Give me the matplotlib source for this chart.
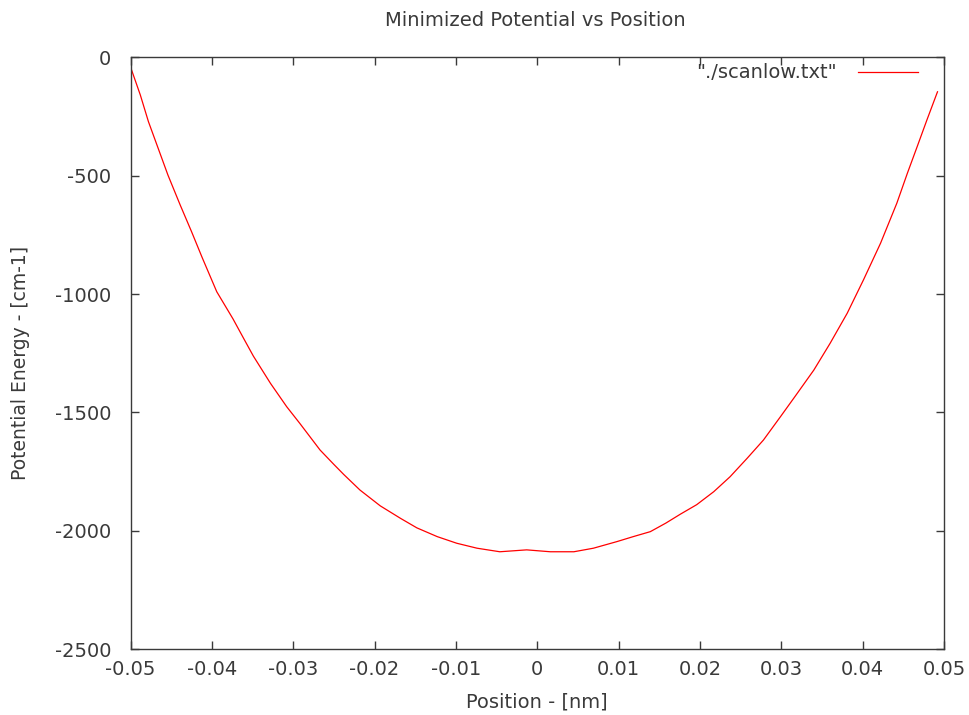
import matplotlib.pyplot as plt

# === dane ===
position = [-0.04994, -0.0488, -0.0478, -0.0466, -0.0454, -0.0439, -0.0425,
            -0.0412, -0.0394, -0.0374, -0.0361, -0.0349, -0.0328, -0.0308,
            -0.0292, -0.0267, -0.0250, -0.0238, -0.0218, -0.0193, -0.0168,
            -0.0148, -0.0123, -0.0099, -0.0074, -0.0046, -0.0013, 0.0016,
            0.0045, 0.0069, 0.0098, 0.0118, 0.0139, 0.0158, 0.0176, 0.0196,
            0.0217, 0.0237, 0.0258, 0.0278, 0.0299, 0.0317, 0.0340, 0.0360,
            0.0381, 0.0401, 0.0422, 0.0442, 0.0455, 0.0467, 0.0479, 0.0492]
energy = [-46, -158, -271, -384, -497, -623, -736,
          -845, -990, -1105, -1187, -1262, -1377, -1476,
          -1546, -1659, -1720, -1762, -1828, -1895, -1948,
          -1988, -2025, -2053, -2074, -2089, -2081, -2089,
          -2089, -2074, -2046, -2025, -2004, -1968, -1930, -1890,
          -1835, -1772, -1694, -1617, -1518, -1432, -1321, -1208,
          -1081, -940, -785, -616, -489, -377, -264, -145]

xticks = [-0.05, -0.04, -0.03, -0.02, -0.01, 0, 0.01, 0.02, 0.03, 0.04, 0.05]
xtick_labels = ["-0.05", "-0.04", "-0.03", "-0.02", "-0.01", "0",
                "0.01", "0.02", "0.03", "0.04", "0.05"]
yticks = [-2500, -2000, -1500, -1000, -500, 0]
ytick_labels = ["-2500", "-2000", "-1500", "-1000", "-500", "0"]

text_color = "#3a3a3a"

fig = plt.figure(figsize=(9.69, 7.15), dpi=100)
ax = fig.add_axes([0.1347, 0.0923, 0.8395, 0.8273])

ax.plot(position, energy, color="red", linewidth=0.9, label='"./scanlow.txt"')

ax.set_xlim(-0.05, 0.05)
ax.set_ylim(-2500, 0)
ax.set_xticks(xticks)
ax.set_xticklabels(xtick_labels)
ax.set_yticks(yticks)
ax.set_yticklabels(ytick_labels)

# ticki do środka, na wszystkich czterech bokach (styl gnuplota)
ax.tick_params(direction="in", length=6, width=1, top=True, right=True,
               labelsize=14, labelcolor=text_color, color=text_color)
ax.tick_params(axis="x", pad=8)
ax.tick_params(axis="y", pad=14)
for s in ax.spines.values():
    s.set_color(text_color)
    s.set_linewidth(1)

ax.set_xlabel("Position - [nm]", fontsize=14, color=text_color)
ax.xaxis.set_label_coords(0.5, -0.073)
ax.set_ylabel("Potential Energy - [cm-1]", fontsize=13.5, color=text_color)
ax.yaxis.set_label_coords(-0.124, 0.483)
fig.text(0.552, 0.972, "Minimized Potential vs Position", fontsize=14,
         color=text_color, ha="center", va="center")

ax.legend(loc="upper right", frameon=False, markerfirst=False, fontsize=14,
          handlelength=3.1, handletextpad=1.1, borderaxespad=0, borderpad=0,
          labelcolor=text_color, bbox_to_anchor=(0.9686, 0.99))

plt.savefig("out.png", dpi=100)
